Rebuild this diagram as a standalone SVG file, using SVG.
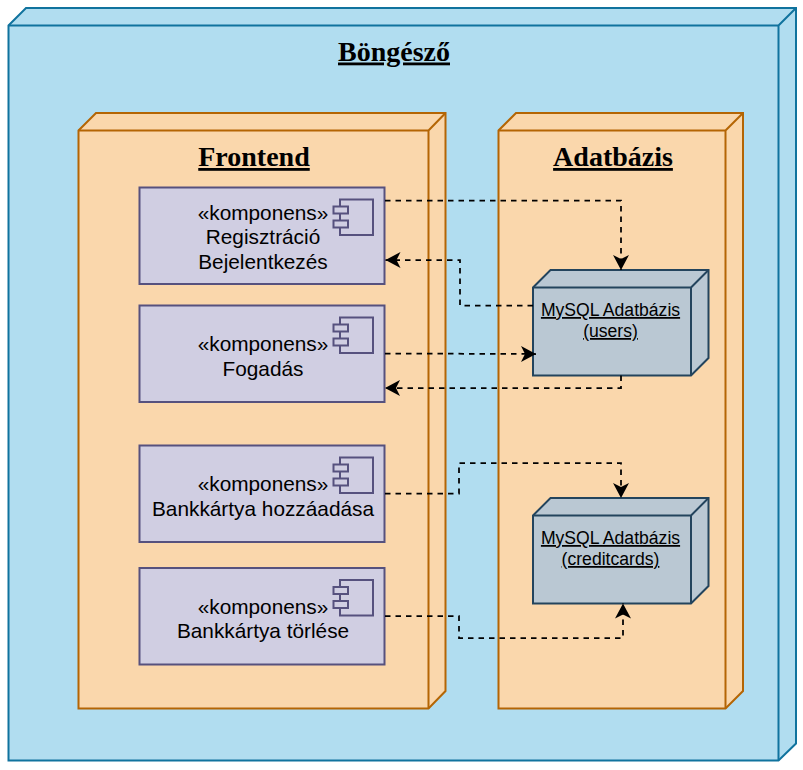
<svg xmlns="http://www.w3.org/2000/svg" width="803" height="770" viewBox="0 0 803 770">
<style>
.blue{fill:#b1ddf0;stroke:#10739e}
.orange{fill:#fad7ac;stroke:#b46504}
.slate{fill:#bac8d3;stroke:#23445d}
.blue,.orange,.slate{stroke-width:2;stroke-linejoin:miter}
.edge3d{fill:none;stroke-width:2}
.comp{fill:#d0cee2;stroke:#56517e;stroke-width:2}
.title{font-family:"Liberation Serif",serif;font-weight:bold;font-size:28px;text-anchor:middle;text-decoration:underline;fill:#000}
.ct{font-family:"Liberation Sans",Arial,sans-serif;font-size:20.8px;text-anchor:middle;fill:#000}
.dt{font-family:"Liberation Sans",Arial,sans-serif;font-size:17.6px;text-anchor:middle;text-decoration:underline;fill:#000}
.conn{fill:none;stroke:#000;stroke-width:1.75;stroke-dasharray:5.500 5}
</style>
<defs>
<marker id="arr" markerUnits="userSpaceOnUse" markerWidth="18" markerHeight="18" refX="15" refY="9" orient="auto">
<path d="M0 1L15 9L0 17L4 9Z" fill="#000"/>
</marker>
<g id="icon"><rect x="0" y="0" width="33" height="35.500" class="comp"/><rect x="-6.500" y="7" width="14.500" height="7" class="comp"/><rect x="-6.500" y="21" width="14.500" height="7" class="comp"/></g>
</defs>
<g id="browser">
<path class="blue" d="M8.500 25.500L26 8H796V743.500L778.500 760.500H8.500Z"/>
<path class="blue edge3d" style="fill:none" d="M8.500 25.500H778.500V760.500M778.500 25.500L796 8"/>
<text class="title" x="394" y="60.500">Böngésző</text>
</g>
<g id="frontend">
<path class="orange" d="M78.500 130.500L96 113H445.500V691L428.500 708.500H78.500Z"/>
<path class="orange edge3d" style="fill:none" d="M78.500 130.500H428.500V708.500M428.500 130.500L445.500 113"/>
<text class="title" x="254" y="166">Frontend</text>
</g>
<g id="adatbazis">
<path class="orange" d="M498.500 130.500L516 113H743V691L725.500 708.500H498.500Z"/>
<path class="orange edge3d" style="fill:none" d="M498.500 130.500H725.500V708.500M725.500 130.500L743 113"/>
<text class="title" x="613" y="166">Adatbázis</text>
</g>
<g id="comp-regisztracio">
<rect class="comp" x="139.500" y="187.500" width="245" height="96.500"/>
<use href="#icon" x="340" y="199.500"/>
<text class="ct" x="263" y="219.500">«komponens»</text>
<text class="ct" x="263" y="244">Regisztráció</text>
<text class="ct" x="263" y="268.500">Bejelentkezés</text>
</g>
<g id="comp-fogadas">
<rect class="comp" x="139.500" y="305.500" width="245" height="96.500"/>
<use href="#icon" x="340" y="317.500"/>
<text class="ct" x="263" y="351">«komponens»</text>
<text class="ct" x="263" y="375.500">Fogadás</text>
</g>
<g id="comp-hozzaadas">
<rect class="comp" x="139.500" y="445.500" width="245" height="96.500"/>
<use href="#icon" x="340" y="457.500"/>
<text class="ct" x="263" y="491">«komponens»</text>
<text class="ct" x="263" y="515.500">Bankkártya hozzáadása</text>
</g>
<g id="comp-torles">
<rect class="comp" x="139.500" y="568" width="245" height="96.500"/>
<use href="#icon" x="340" y="580"/>
<text class="ct" x="263" y="614">«komponens»</text>
<text class="ct" x="263" y="638">Bankkártya törlése</text>
</g>
<g id="db-users">
<path class="slate" d="M533 287.500L550.500 270H708.500V358L691 375.500H533Z"/>
<path class="slate edge3d" style="fill:none" d="M533 287.500H691V375.500M691 287.500L708.500 270"/>
<text class="dt" x="610.500" y="316">MySQL Adatbázis</text>
<text class="dt" x="610.500" y="337">(users)</text>
</g>
<g id="db-creditcards">
<path class="slate" d="M533 515.500L550.500 498H708.500V586L691 603.500H533Z"/>
<path class="slate edge3d" style="fill:none" d="M533 515.500H691V603.500M691 515.500L708.500 498"/>
<text class="dt" x="610.500" y="544">MySQL Adatbázis</text>
<text class="dt" x="610.500" y="565">(creditcards)</text>
</g>
<g id="connectors">
<path class="conn" marker-end="url(#arr)" d="M385 200.500H621V270"/>
<path class="conn" marker-end="url(#arr)" d="M533 305.500H460V260H385.500"/>
<path class="conn" marker-end="url(#arr)" d="M385 353.500L536 354"/>
<path class="conn" marker-end="url(#arr)" d="M621 375.500V388H385"/>
<path class="conn" marker-end="url(#arr)" d="M385 493.500H459V463H621V498"/>
<path class="conn" marker-end="url(#arr)" d="M385 616H459V638H623V603.500"/>
</g>
</svg>
